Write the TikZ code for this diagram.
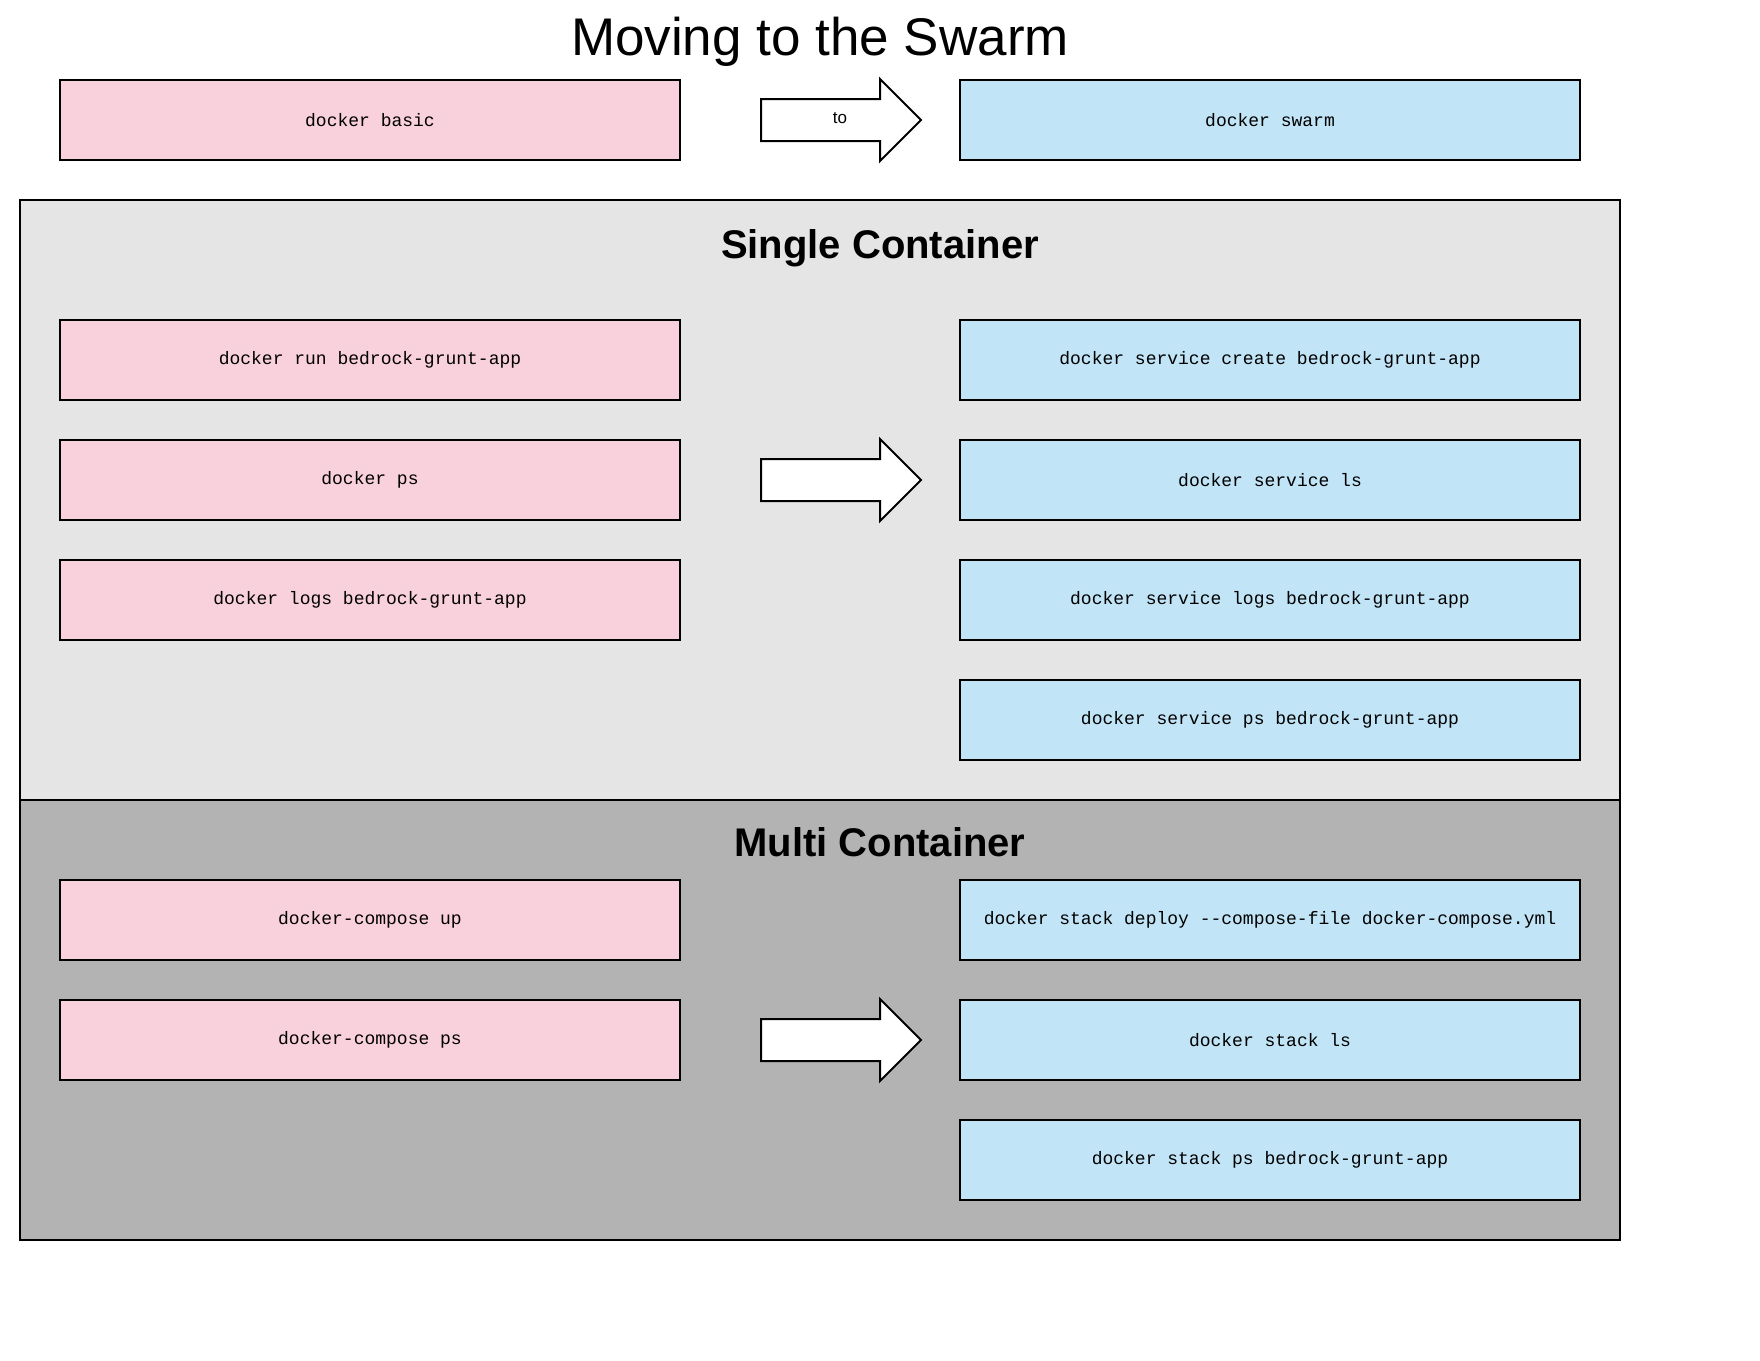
\documentclass[tikz,border=0pt]{standalone}
\usepackage{fontspec}
\setmainfont{Liberation Sans}
\setmonofont{Liberation Mono}
\usetikzlibrary{shapes.arrows}

\definecolor{basicpink}{HTML}{F9D1DC}
\definecolor{swarmblue}{HTML}{C1E4F6}
\definecolor{singlegray}{HTML}{E5E5E5}
\definecolor{multigray}{HTML}{B3B3B3}

\tikzset{
  cmd/.style={draw,rectangle,line width=2pt,minimum width=620pt,minimum height=80pt,inner sep=0pt,font=\fontsize{18}{22}\selectfont\ttfamily},
  basic/.style={cmd,fill=basicpink},
  swarm/.style={cmd,fill=swarmblue},
  bigarrow/.style={draw,single arrow,fill=white,line width=2pt,minimum height=160pt,minimum width=80pt,single arrow head extend=20pt,
    text height=6pt,text depth=0pt,inner xsep=0pt,inner ysep=17pt,anchor=tail},
  pane/.style={draw,rectangle,line width=2pt,minimum width=1600pt,inner sep=0pt},
  panetitle/.style={anchor=base,font=\fontsize{40}{46}\selectfont\bfseries}
}

\begin{document}
\begin{tikzpicture}[x=1pt,y=-1pt,node distance=120pt]
\useasboundingbox (0,0) rectangle (1760,1360);
% panes
\node[pane,fill=singlegray,minimum height=600pt] (single) at (820,500) {};
\node[pane,fill=multigray,minimum height=440pt] (multi) at (820,1020) {};

\node[anchor=base,font=\fontsize{53}{62}\selectfont] (title) at (820,55) {Moving to the Swarm};

% top row
\node[basic] (basic) at (370,120) {docker basic};
\node[bigarrow] (toarrow) at (760,120) {};
\node[anchor=base,font=\fontsize{17}{20}\selectfont] (to) at (840,123) {to};
\node[swarm] (swarm) at (1270,120) {docker swarm};

% single container
\node[panetitle] (singletitle) at (880,258) {Single Container};
\node[basic] (run) at (370,360) {docker run bedrock-grunt-app};
\node[basic] (ps) [below of=run] {docker ps};
\node[basic] (logs) [below of=ps] {docker logs bedrock-grunt-app};
\node[bigarrow] (singlearrow) at (760,480) {};
\node[swarm] (create) at (1270,360) {docker service create bedrock-grunt-app};
\node[swarm] (servicels) [below of=create] {docker service ls};
\node[swarm] (servicelogs) [below of=servicels] {docker service logs bedrock-grunt-app};
\node[swarm] (serviceps) [below of=servicelogs] {docker service ps bedrock-grunt-app};

% multi container
\node[panetitle] (multititle) at (880,856) {Multi Container};
\node[basic] (up) at (370,920) {docker-compose up};
\node[basic] (composeps) [below of=up] {docker-compose ps};
\node[bigarrow] (multiarrow) at (760,1040) {};
\node[swarm] (deploy) at (1270,920) {docker stack deploy --compose-file docker-compose.yml};
\node[swarm] (stackls) [below of=deploy] {docker stack ls};
\node[swarm] (stackps) [below of=stackls] {docker stack ps bedrock-grunt-app};
\end{tikzpicture}
\end{document}
